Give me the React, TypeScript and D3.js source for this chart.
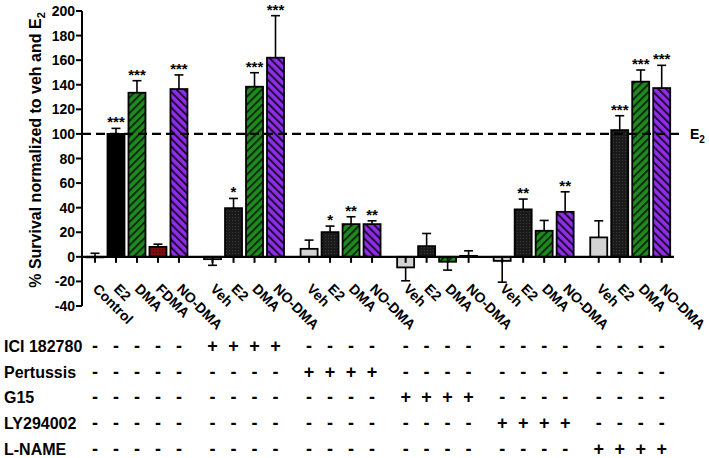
import React from "react";
import * as d3 from "d3";

const W = 709;
const H = 458;

const labels = [
  "Control", "E2", "DMA", "FDMA", "NO-DMA",
  "Veh", "E2", "DMA", "NO-DMA",
  "Veh", "E2", "DMA", "NO-DMA",
  "Veh", "E2", "DMA", "NO-DMA",
  "Veh", "E2", "DMA", "NO-DMA",
  "Veh", "E2", "DMA", "NO-DMA",
];
const groupOf = [0, 0, 0, 0, 0, 1, 1, 1, 1, 2, 2, 2, 2, 3, 3, 3, 3, 4, 4, 4, 4, 5, 5, 5, 5];
const means = [
  0, 100, 133.5, 8.1, 136.5,
  -1.9, 39.6, 138.4, 162,
  6.5, 20.1, 26.6, 26.6,
  -8.6, 8.7, -4, 0.8,
  -3.3, 38.6, 21.2, 36.6,
  15.8, 103.1, 142.5, 137.3,
];
const errs = [
  2.9, 4.5, 9.8, 2.2, 11.5,
  5, 7.9, 11.4, 34.2,
  7.1, 4.9, 6, 2.7,
  10.9, 10.3, 6.8, 4.1,
  17.3, 8.4, 8.4, 16.3,
  13.5, 11.7, 9.5, 18.5,
];
const stars = [
  "", "***", "***", "", "***",
  "", "*", "***", "***",
  "", "*", "**", "**",
  "", "", "", "",
  "", "**", "", "**",
  "", "***", "***", "***",
];
const yTicks = [200, 180, 160, 140, 120, 100, 80, 60, 40, 20, 0, -20, -40];
const treatments = ["ICI 182780", "Pertussis", "G15", "LY294002", "L-NAME"];
const treatmentGroup = [1, 2, 3, 4, 5];

const GAP = 0.6;
const FONT = "Arial, 'Liberation Sans', Helvetica, sans-serif";

export default function App() {
  const y = d3.scaleLinear().domain([-40, 200]).range([306, 11]);
  const slot = d3.scaleLinear().domain([0, 24 + 5 * GAP]).range([95, 661.7]);
  const xs = labels.map((_, i) => slot(i + groupOf[i] * GAP));
  const bw = 17;
  const axisX = 82;
  const y0 = y(0);

  const fillFor = (i: number) => {
    const l = labels[i];
    if (l === "Control" || l === "Veh") return "#d3d3d3";
    if (l === "E2") return groupOf[i] === 0 ? "#000" : "url(#dots)";
    if (l === "DMA") return "url(#hatchG)";
    if (l === "FDMA") return "url(#cross)";
    return "url(#hatchP)";
  };

  return (
    <svg
      width={W}
      height={H}
      style={{ position: "fixed", left: 0, top: 0, background: "#fff" }}
      fontFamily={FONT}
    >
      <defs>
        <pattern id="hatchG" patternUnits="userSpaceOnUse" width={5.5} height={5.5} patternTransform="rotate(45)">
          <rect width={5.5} height={5.5} fill="#1f8a1f" />
          <line x1={1} y1={0} x2={1} y2={5.5} stroke="#0a2a0a" strokeWidth={2} />
        </pattern>
        <pattern id="hatchP" patternUnits="userSpaceOnUse" width={5.5} height={5.5} patternTransform="rotate(-45)">
          <rect width={5.5} height={5.5} fill="#8f2ee6" />
          <line x1={1} y1={0} x2={1} y2={5.5} stroke="#220838" strokeWidth={2} />
        </pattern>
        <pattern id="cross" patternUnits="userSpaceOnUse" width={3} height={3}>
          <rect width={3} height={3} fill="#7a0f0f" />
          <rect width={1} height={1} fill="#3a0505" />
        </pattern>
        <pattern id="dots" patternUnits="userSpaceOnUse" width={3} height={3}>
          <rect width={3} height={3} fill="#1a1a1a" />
          <rect x={1} y={1} width={1} height={1} fill="#3a3a3a" />
        </pattern>
      </defs>

      {/* y axis label */}
      <text
        transform={`translate(41,150) rotate(-90)`}
        textAnchor="middle"
        fontSize={16}
        fontWeight="bold"
      >
        % Survival normalized to veh and E
        <tspan fontSize={11} dy={4}>2</tspan>
      </text>

      {/* y axis */}
      <line x1={axisX} x2={axisX} y1={y(200)} y2={y(-40)} stroke="#000" strokeWidth={2} />
      {yTicks.map((t) => (
        <g key={t}>
          <line x1={axisX - 6} x2={axisX} y1={y(t)} y2={y(t)} stroke="#000" strokeWidth={2} />
          <text x={axisX - 7} y={y(t) + 5} textAnchor="end" fontSize={14} fontWeight="bold">
            {t}
          </text>
        </g>
      ))}

      {/* bars */}
      {labels.map((l, i) => {
        const v = means[i];
        const top = Math.min(y(v), y0);
        const h = Math.abs(y(v) - y0);
        return (
          <rect
            key={"b" + i}
            x={xs[i] - bw / 2}
            y={top}
            width={bw}
            height={Math.max(h, 0.5)}
            fill={fillFor(i)}
            stroke="#000"
            strokeWidth={1.8}
          />
        );
      })}

      {/* error bars */}
      {labels.map((l, i) => {
        const v = means[i];
        const e = v >= 0 ? v + errs[i] : v - errs[i];
        return (
          <g key={"e" + i} stroke="#000" strokeWidth={1.6}>
            <line x1={xs[i]} x2={xs[i]} y1={y(v)} y2={y(e)} />
            <line x1={xs[i] - 4.5} x2={xs[i] + 4.5} y1={y(e)} y2={y(e)} />
          </g>
        );
      })}

      {/* x axis */}
      <line x1={axisX} x2={674} y1={y0} y2={y0} stroke="#000" strokeWidth={2.2} />
      {xs.map((x, i) => (
        <line key={"t" + i} x1={x} x2={x} y1={y0} y2={y0 + 6} stroke="#000" strokeWidth={2} />
      ))}

      {/* dashed E2 line */}
      <line
        x1={axisX}
        x2={682}
        y1={y(100)}
        y2={y(100)}
        stroke="#000"
        strokeWidth={2.2}
        strokeDasharray="9,5"
      />
      <text x={690} y={y(100) + 5} fontSize={14} fontWeight="bold">
        E<tspan fontSize={10} dy={4}>2</tspan>
      </text>

      {/* stars */}
      {labels.map((l, i) => {
        if (!stars[i]) return null;
        const v = means[i];
        const e = v + errs[i];
        return (
          <text key={"s" + i} x={xs[i]} y={y(e) - 1} textAnchor="middle" fontSize={15} fontWeight="bold">
            {stars[i]}
          </text>
        );
      })}

      {/* x labels */}
      {labels.map((l, i) => (
        <text
          key={"l" + i}
          transform={`translate(${xs[i] - 3},${y0 + 33}) rotate(45)`}
          fontSize={14}
          fontWeight="bold"
        >
          {l}
        </text>
      ))}

      {/* treatment table */}
      {treatments.map((t, r) => {
        const ty = 352 + r * 25.7;
        return (
          <g key={t}>
            <text x={4} y={ty} fontSize={16} fontWeight="bold">
              {t}
            </text>
            {xs.map((x, i) => (
              <text
                key={i}
                x={x}
                y={ty}
                textAnchor="middle"
                fontSize={18}
                fontWeight="bold"
              >
                {groupOf[i] === treatmentGroup[r] ? "+" : "-"}
              </text>
            ))}
          </g>
        );
      })}
    </svg>
  );
}
